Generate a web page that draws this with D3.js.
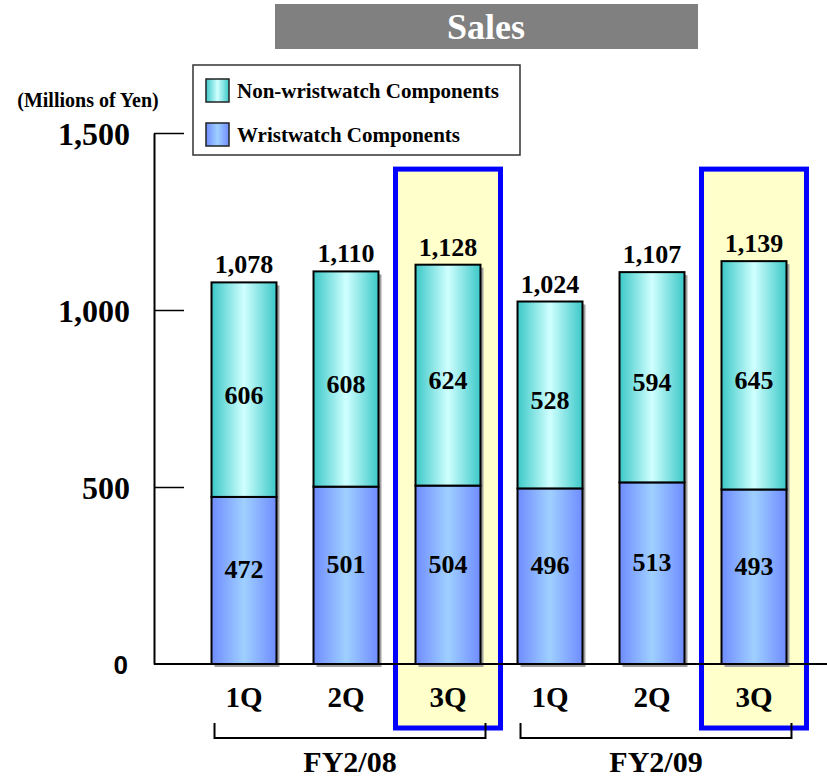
<!DOCTYPE html>
<html><head><meta charset="utf-8">
<script src="https://cdn.jsdelivr.net/npm/d3@7"></script>
<style>body{margin:0;background:#fff}svg{display:block}</style>
</head><body>
<svg id="c" width="827" height="780"></svg>
<script>
const keys = ["FY08-1Q","FY08-2Q","FY08-3Q","FY09-1Q","FY09-2Q","FY09-3Q"];
const quarterLabels = ["1Q","2Q","3Q","1Q","2Q","3Q"];
const watch = [472,501,504,496,513,493];
const nonWatch = [606,608,624,528,594,645];
const totals = [1078,1110,1128,1024,1107,1139];
const yTicks = [0,500,1000,1500];
const highlighted = ["FY08-3Q","FY09-3Q"];
const fiscalYears = ["FY2/08","FY2/09"];
const fyGroups = [["FY08-1Q","FY08-3Q"],["FY09-1Q","FY09-3Q"]];
const seriesNames = ["Non-wristwatch Components","Wristwatch Components"];

const serif = "'Liberation Serif','Times New Roman',serif";
const svg = d3.select("#c");
const defs = svg.append("defs");
function grad(id, edge, mid){
  const g = defs.append("linearGradient").attr("id",id).attr("x1","0").attr("x2","1").attr("y1","0").attr("y2","0");
  g.append("stop").attr("offset","0%").attr("stop-color",edge);
  g.append("stop").attr("offset","50%").attr("stop-color",mid);
  g.append("stop").attr("offset","100%").attr("stop-color",edge);
}
grad("gW","#6f8cff","#9fd0ff");
grad("gN","#3cc8c8","#d0ffff");

const y = d3.scaleLinear().domain([0,1500]).range([664,133]);
const x = d3.scaleBand().domain(keys).range([193,805]).paddingInner(0.363).paddingOuter(0.1815);
const axisX = 154;

// Title
svg.append("rect").attr("x",275).attr("y",4).attr("width",423).attr("height",45).attr("fill","#808080");
svg.append("text").attr("x",486).attr("y",39).attr("text-anchor","middle").attr("fill","#fff")
  .attr("font-family",serif).attr("font-weight","bold").attr("font-size",36).text("Sales");

// Highlight boxes
svg.append("g").selectAll("rect").data(highlighted).join("rect")
  .attr("x",d=>x(d)-20).attr("width",x.bandwidth()+40)
  .attr("y",y(1398)).attr("height",728-y(1398))
  .attr("fill","#ffffcc").attr("stroke","#0000ff").attr("stroke-width",5);

// Y axis
const yAxis = d3.axisLeft(y).tickValues(yTicks).tickSizeInner(-30).tickSizeOuter(0).tickPadding(24)
  .tickFormat(d3.format(","));
const ga = svg.append("g").attr("transform",`translate(${axisX},0)`).call(yAxis);
ga.select(".domain").attr("stroke","#000").attr("stroke-width",2);
ga.selectAll(".tick line").attr("stroke","#000").attr("stroke-width",1.5);
ga.selectAll(".tick text").attr("fill","#000").attr("font-family",serif).attr("font-weight","bold").attr("font-size",32)
  .attr("dy","0.35em");
ga.selectAll(".tick").filter(d=>d===0).select("line").remove();
ga.selectAll(".tick").filter(d=>d===0).select("text")
  .attr("font-family","'Liberation Sans',Arial,sans-serif").attr("font-size",26).attr("x",-26);

svg.append("text").attr("x",88).attr("y",107).attr("text-anchor","middle")
  .attr("font-family",serif).attr("font-weight","bold").attr("font-size",20).text("(Millions of Yen)");

// Bars
const rows = keys.map((k,i)=>({k,i,w:watch[i],n:nonWatch[i],t:totals[i]}));
const gb = svg.append("g");
gb.selectAll("rect.sh").data(rows).join("rect").attr("class","sh")
  .attr("x",d=>x(d.k)+3).attr("width",x.bandwidth())
  .attr("y",d=>y(d.w+d.n)+3).attr("height",d=>y(0)-y(d.w+d.n))
  .attr("fill","#a0a0a0");
gb.selectAll("rect.w").data(rows).join("rect").attr("class","w")
  .attr("x",d=>x(d.k)).attr("width",x.bandwidth())
  .attr("y",d=>y(d.w)).attr("height",d=>y(0)-y(d.w))
  .attr("fill","url(#gW)").attr("stroke","#000").attr("stroke-width",2);
gb.selectAll("rect.n").data(rows).join("rect").attr("class","n")
  .attr("x",d=>x(d.k)).attr("width",x.bandwidth())
  .attr("y",d=>y(d.w+d.n)).attr("height",d=>y(d.w)-y(d.w+d.n))
  .attr("fill","url(#gN)").attr("stroke","#000").attr("stroke-width",2);

// X axis line
svg.append("line").attr("x1",axisX).attr("x2",827).attr("y1",y(0)).attr("y2",y(0)).attr("stroke","#000").attr("stroke-width",2);

// Labels
const lbl = sel => sel.attr("text-anchor","middle").attr("font-family",serif).attr("font-weight","bold").attr("fill","#000");
svg.append("g").selectAll("text").data(rows).join("text").call(lbl).attr("font-size",26)
  .attr("x",d=>x(d.k)+x.bandwidth()/2).attr("y",d=>y(d.w+d.n)-9).text(d=>d3.format(",")(d.t));
svg.append("g").selectAll("text").data(rows).join("text").call(lbl).attr("font-size",26)
  .attr("x",d=>x(d.k)+x.bandwidth()/2).attr("y",d=>y(d.w+d.n/2)+14).text(d=>d.n);
svg.append("g").selectAll("text").data(rows).join("text").call(lbl).attr("font-size",26)
  .attr("x",d=>x(d.k)+x.bandwidth()/2).attr("y",d=>y(d.w/2)-2).text(d=>d.w);
svg.append("g").selectAll("text").data(rows).join("text").call(lbl).attr("font-size",29)
  .attr("x",d=>x(d.k)+x.bandwidth()/2).attr("y",d=>707).text(d=>quarterLabels[d.i]);

// FY brackets
const gf = svg.append("g");
fyGroups.forEach((g,i)=>{
  const x0 = x(g[0])+3, x1 = x(g[1])+x.bandwidth()+5;
  gf.append("path").attr("d",`M${x0},723V738H${x1}V723`).attr("fill","none").attr("stroke","#000").attr("stroke-width",2);
  gf.append("text").call(lbl).attr("font-size",30).attr("x",(x0+x1)/2).attr("y",772).text(fiscalYears[i]);
});

// Legend
const lg = svg.append("g");
lg.append("rect").attr("x",193).attr("y",65).attr("width",327).attr("height",90).attr("fill","#fff").attr("stroke","#333").attr("stroke-width",1.5);
["url(#gN)","url(#gW)"].forEach((f,i)=>{
  lg.append("rect").attr("x",206).attr("y",79+i*44).attr("width",23).attr("height",23).attr("fill",f).attr("stroke","#222").attr("stroke-width",1.5);
  lg.append("text").attr("x",237).attr("y",98+i*44).attr("font-family",serif).attr("font-weight","bold").attr("font-size",21).text(seriesNames[i]);
});
</script>
</body></html>
